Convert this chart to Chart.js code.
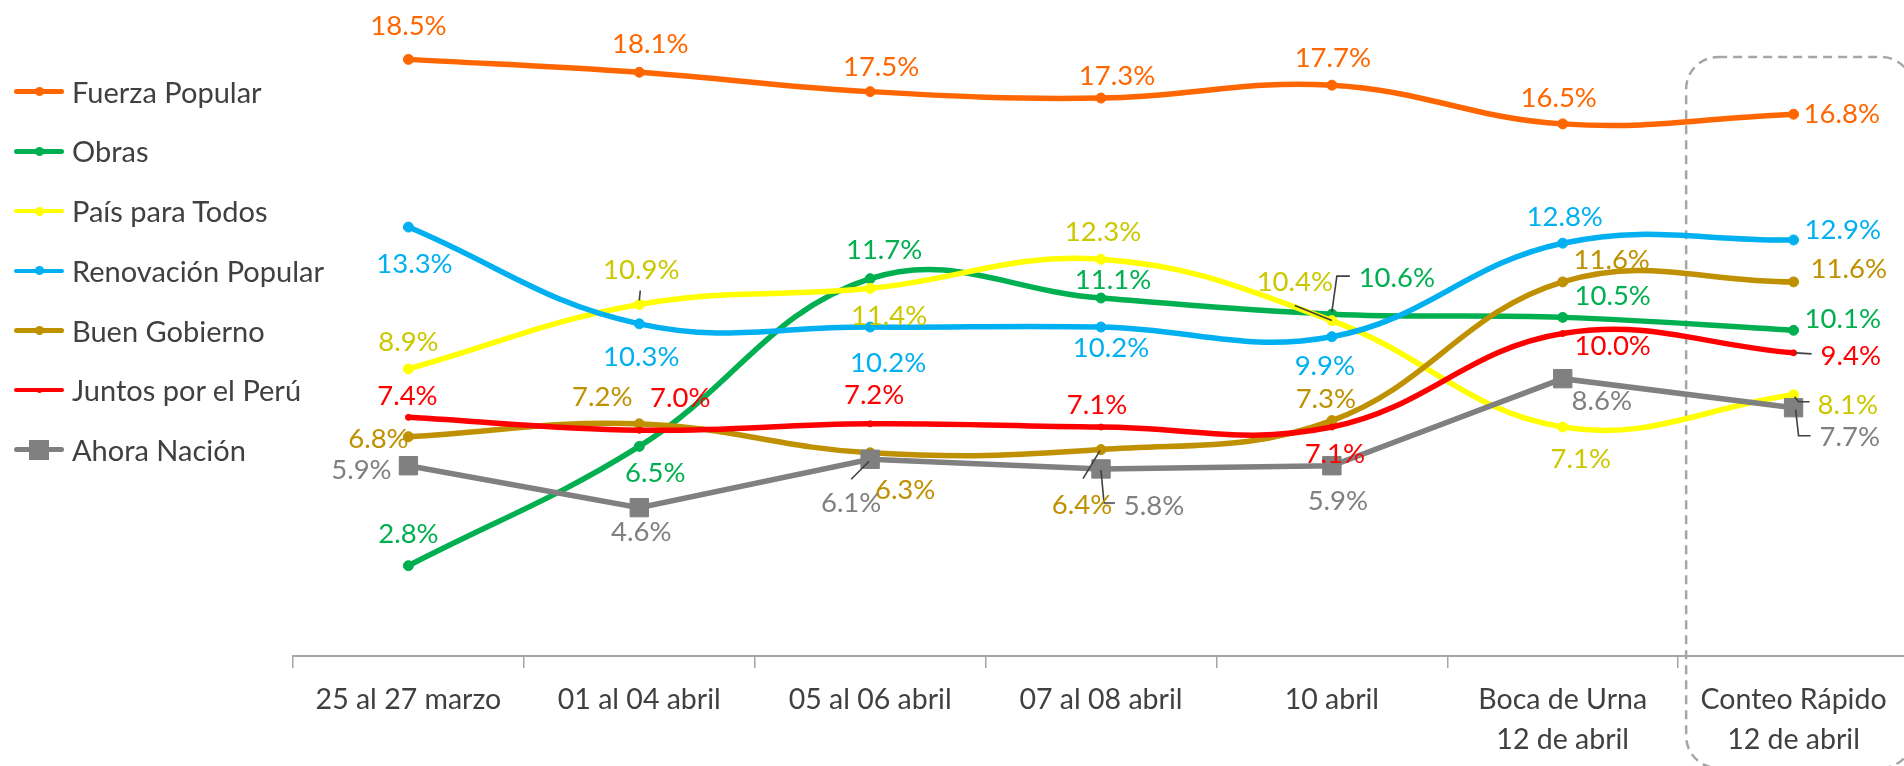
<!DOCTYPE html>
<html lang="es">
<head>
<meta charset="utf-8">
<title>Intención de voto</title>
<script src="https://cdn.jsdelivr.net/npm/chart.js@4.4.1/dist/chart.umd.min.js"></script>
<style>
  html, body { margin: 0; padding: 0; background: #fff; overflow: hidden; }
  #wrap { position: relative; width: 1904px; height: 766px; overflow: hidden; }
  #chart { position: absolute; left: 0; top: 0; }
  #legend { position: absolute; left: 0; top: 0; font-family: Lato, "Open Sans", sans-serif; font-size: 29px; color: #404040; }
  .item { position: absolute; left: 14px; height: 40px; width: 330px; }
  .item .ln { position: absolute; left: 0; top: 50%; width: 50px; border-radius: 3px; }
  .item .mk { position: absolute; left: 25px; top: 50%; }
  .item .tx { position: absolute; left: 58px; top: 50%; transform: translateY(-52%); white-space: nowrap; }
</style>
</head>
<body>
<div id="wrap">
  <canvas id="chart" width="1909" height="766"></canvas>
  <div id="legend"></div>
</div>
<script>
// Datos
var categories = ['25 al 27 marzo', '01 al 04 abril', '05 al 06 abril', '07 al 08 abril', '10 abril',
  ['Boca de Urna', '12 de abril'], ['Conteo Rápido', '12 de abril']];

var fuerzaPopular    = [18.5, 18.1, 17.5, 17.3, 17.7, 16.5, 16.8];
var obras            = [2.8, 6.5, 11.7, 11.1, 10.6, 10.5, 10.1];
var paisParaTodos    = [8.9, 10.9, 11.4, 12.3, 10.4, 7.1, 8.1];
var renovacion       = [13.3, 10.3, 10.2, 10.2, 9.9, 12.8, 12.9];
var buenGobierno     = [6.8, 7.2, 6.3, 6.4, 7.3, 11.6, 11.6];
var juntosPorElPeru  = [7.4, 7.0, 7.2, 7.1, 7.1, 10.0, 9.4];
var ahoraNacion      = [5.9, 4.6, 6.1, 5.8, 5.9, 8.6, 7.7];

var seriesNames = ['Fuerza Popular', 'Obras', 'País para Todos', 'Renovación Popular',
  'Buen Gobierno', 'Juntos por el Perú', 'Ahora Nación'];
var seriesValues = [fuerzaPopular, obras, paisParaTodos, renovacion, buenGobierno, juntosPorElPeru, ahoraNacion];

// Estilos
var lineColors  = ['#FF6600', '#00B050', '#FFFF00', '#00B0F0', '#BF9000', '#FF0000', '#808080'];
var labelColors = ['#FF6600', '#00B050', '#CCC800', '#00B0F0', '#BF9000', '#FF0000', '#808080'];
var FONT = 'Lato, "Open Sans", sans-serif';

// posición de etiquetas relativa al punto [dx, dy, alineación]
var labelPos = [
  [[0,-33,'c'], [11,-28,'c'], [11,-25,'c'], [16,-22,'c'], [1,-27,'c'], [-4,-26,'c'], [10,0,'l']],
  [[0,-32,'c'], [16,27,'c'], [14,-29,'c'], [12,-18,'c'], [65,-36,'c'], [50,-21,'c'], [11,-11,'l']],
  [[0,-27,'c'], [2,-34,'c'], [19,28,'c'], [2,-27,'c'], [-37,-38,'c'], [18,32,'c'], [24,10,'l']],
  [[6,37,'c'], [2,33,'c'], [18,36,'c'], [10,21,'c'], [-7,29,'c'], [2,-26,'c'], [11,-10,'l']],
  [[-30,2,'c'], [-37,-27,'c'], [35,37,'c'], [-19,56,'c'], [-6,-21,'c'], [49,-22,'c'], [17,-13,'l']],
  [[-1,-21,'c'], [41,-32,'c'], [4,-29,'c'], [-4,-22,'c'], [3,27,'c'], [50,13,'c'], [27,3,'l']],
  [[-47,4,'c'], [2,24,'c'], [-19,44,'c'], [53,37,'c'], [6,35,'c'], [39,22,'c'], [26,29,'l']]
];

// líneas guía (serie-punto)
var leaders = {
  '1-4': [[0,-2], [5,-38], [18,-38]],
  '2-1': [[0,-4], [1,-14]],
  '2-4': [[0,0], [-37,-15]],
  '2-6': [[1,2], [5,7], [16,7]],
  '4-3': [[-1,1], [-18,29]],
  '5-6': [[2,0], [18,1]],
  '6-2': [[-1,2], [-19,20]],
  '6-3': [[0,1], [3,34], [14,34]],
  '6-6': [[2,2], [5,28], [17,28]]
};

function fmt(v) { return v.toFixed(1) + '%'; }

var datasets = seriesNames.map(function(name, i) {
  var isAhora = i === 6;
  return {
    label: name,
    data: seriesValues[i],
    borderColor: lineColors[i],
    backgroundColor: lineColors[i],
    pointBackgroundColor: lineColors[i],
    pointBorderColor: lineColors[i],
    borderWidth: 5.5,
    tension: isAhora ? 0 : 0.4,
    pointStyle: isAhora ? 'rect' : 'circle',
    pointRadius: isAhora ? 13 : (i === 5 ? 3 : 5),
    pointBorderWidth: 1,
    order: 6 - i,
    clip: false
  };
});

var boxPlugin = {
  id: 'conteoBox',
  beforeDatasetsDraw: function(chart) {
    var x = chart.scales.x;
    var ctx = chart.ctx;
    var left = (x.getPixelForValue(5) + x.getPixelForValue(6)) / 2 + 8;
    var top = 57, right = x.right + 4, bottom = chart.height + 2, r = 32;
    ctx.save();
    ctx.strokeStyle = '#A6A6A6';
    ctx.lineWidth = 2.5;
    ctx.setLineDash([9, 6]);
    ctx.beginPath();
    ctx.moveTo(left + r, top);
    ctx.lineTo(right - r, top);
    ctx.arcTo(right, top, right, top + r, r);
    ctx.lineTo(right, bottom - r);
    ctx.arcTo(right, bottom, right - r, bottom, r);
    ctx.lineTo(left + r, bottom);
    ctx.arcTo(left, bottom, left, bottom - r, r);
    ctx.lineTo(left, top + r);
    ctx.arcTo(left, top, left + r, top, r);
    ctx.stroke();
    ctx.restore();
  }
};

var labelPlugin = {
  id: 'pointLabels',
  afterDatasetsDraw: function(chart) {
    var ctx = chart.ctx;
    ctx.save();
    ctx.strokeStyle = '#404040';
    ctx.lineWidth = 1.6;
    chart.data.datasets.forEach(function(ds, di) {
      chart.getDatasetMeta(di).data.forEach(function(pt, i) {
        var lead = leaders[di + '-' + i];
        if (!lead) return;
        ctx.beginPath();
        lead.forEach(function(p, k) {
          if (k === 0) ctx.moveTo(pt.x + p[0], pt.y + p[1]);
          else ctx.lineTo(pt.x + p[0], pt.y + p[1]);
        });
        ctx.stroke();
      });
    });
    ctx.font = '27.5px ' + FONT;
    ctx.textBaseline = 'middle';
    chart.data.datasets.forEach(function(ds, di) {
      chart.getDatasetMeta(di).data.forEach(function(pt, i) {
        var p = labelPos[di][i];
        ctx.fillStyle = labelColors[di];
        ctx.textAlign = p[2] === 'l' ? 'left' : 'center';
        ctx.fillText(fmt(ds.data[i]), pt.x + p[0], pt.y + p[1]);
      });
    });
    ctx.restore();
  }
};

new Chart(document.getElementById('chart'), {
  type: 'line',
  data: { labels: categories, datasets: datasets },
  options: {
    responsive: false,
    animation: false,
    layout: { autoPadding: false, padding: { left: 293, top: 11, right: 0, bottom: 0 } },
    plugins: { legend: { display: false }, tooltip: { enabled: false } },
    scales: {
      x: {
        offset: true,
        grid: { display: true, drawOnChartArea: false, drawTicks: true, tickLength: 12, color: '#A6A6A6', lineWidth: 1.5, offset: true },
        border: { display: true, color: '#A6A6A6', width: 2 },
        ticks: { color: '#404040', font: { family: FONT, size: 28.5, lineHeight: 1.4 }, padding: 12, maxRotation: 0, autoSkip: false },
        afterFit: function(s) { s.height = 110; s.paddingRight = 0; s.paddingLeft = 0; }
      },
      y: { display: false, min: 0, max: 20 }
    }
  },
  plugins: [boxPlugin, labelPlugin]
});

// Leyenda
var legend = document.getElementById('legend');
seriesNames.forEach(function(name, i) {
  var isAhora = i === 6;
  var item = document.createElement('div');
  item.className = 'item';
  item.style.top = (91.7 + 59.7 * i - 20) + 'px';
  var ln = document.createElement('span');
  ln.className = 'ln';
  var lw = isAhora ? 5 : 4.5;
  ln.style.height = lw + 'px';
  ln.style.marginTop = (-lw / 2) + 'px';
  ln.style.background = lineColors[i];
  var mk = document.createElement('span');
  mk.className = 'mk';
  var ms = isAhora ? 20 : (i === 5 ? 5 : 9);
  mk.style.width = ms + 'px';
  mk.style.height = ms + 'px';
  mk.style.marginLeft = (-ms / 2) + 'px';
  mk.style.marginTop = (-ms / 2) + 'px';
  mk.style.background = lineColors[i];
  mk.style.borderRadius = isAhora ? '0' : '50%';
  var tx = document.createElement('span');
  tx.className = 'tx';
  tx.textContent = name;
  item.appendChild(ln);
  item.appendChild(mk);
  item.appendChild(tx);
  legend.appendChild(item);
});
</script>
</body>
</html>
